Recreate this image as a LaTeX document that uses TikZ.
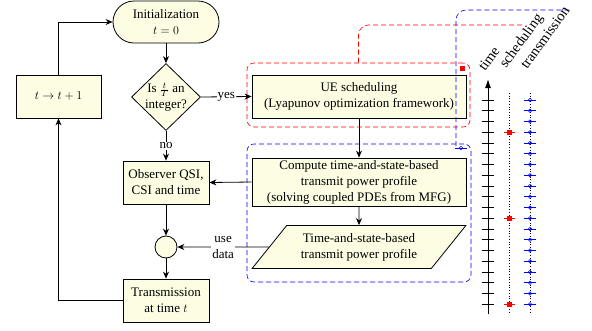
\documentclass[tikz,border=0pt]{standalone}
\usepackage{fontspec}
\setmainfont{Liberation Serif}
\usetikzlibrary{arrows.meta,shapes.geometric}
\definecolor{boxfill}{RGB}{253,253,228}
\begin{document}
\begin{tikzpicture}[x=1pt,y=-1pt,font=\fontsize{13}{16}\selectfont,
  box/.style={draw,line width=0.8pt,fill=boxfill,align=center,inner sep=0pt},
  arr/.style={-{Stealth[length=7pt,width=6pt]},line width=0.8pt},
  lab/.style={fill=white,inner sep=1pt,align=center},
  redgroup/.style={draw=red,line width=0.6pt,dash pattern=on 5pt off 3pt,rounded corners=7pt},
  bluegroup/.style={draw=blue,line width=0.6pt,dash pattern=on 5pt off 3pt,rounded corners=7pt},
  redline/.style={red,line width=0.6pt,dash pattern=on 5pt off 3pt,rounded corners=10pt},
  blueline/.style={blue,line width=0.6pt,dash pattern=on 5pt off 3pt,rounded corners=10pt},
  collabel/.style={rotate=54,anchor=base west,inner sep=0pt,font=\fontsize{14.5}{17}\selectfont}]
\useasboundingbox (0,0) rectangle (592,330);

% groups
\node[redgroup,minimum width=223pt,minimum height=64pt] (redgrp) at (358.5,95) {};
\node[bluegroup,minimum width=224pt,minimum height=138pt] (bluegrp) at (359,213) {};

% flowchart nodes
\node[box,rounded corners=21pt,minimum width=106pt,minimum height=42pt] (init) at (166,22) {Initialization\\$t=0$};
\node[box,diamond,inner sep=-4pt,minimum width=69pt,minimum height=67pt] (dec) at (166,97) {Is $\frac{t}{T}$ an\\integer?};
\node[box,minimum width=86pt,minimum height=43pt] (obs) at (166,182.5) {Observer QSI,\\CSI and time};
\node[draw,circle,fill=boxfill,line width=0.8pt,minimum size=22pt,inner sep=0pt] (circ) at (166,247) {};
\node[box,minimum width=86pt,minimum height=43pt] (trans) at (166,300.5) {Transmission\\at time $t$};
\node[box,minimum width=85pt,minimum height=43pt] (inc) at (58.5,96.5) {$t\to t+1$};
\node[box,minimum width=214pt,minimum height=43pt] (ue) at (359,96.5) {UE scheduling\\(Lyapunov optimization framework)};
\node[box,minimum width=214pt,minimum height=48pt] (comp) at (359,182) {Compute time-and-state-based\\transmit power profile\\(solving coupled PDEs from MFG)};
\node[box,trapezium,trapezium left angle=45,trapezium right angle=135,trapezium stretches=true,minimum width=214pt,minimum height=43pt] (para) at (359,247) {Time-and-state-based\\transmit power profile};

% connectors
\draw[arr] (init.south) -- (dec.north);
\draw[arr] (dec.east) -- node[lab]{yes} (ue.west);
\draw[arr] (dec.south) -- node[lab]{no} (obs.north);
\draw[arr] (ue.south) -- (comp.north);
\draw[arr] (comp.west) -- (obs.east);
\draw[arr] (comp.south) -- (para.north);
\draw[arr] (obs.south) -- (circ.north);
\draw[arr] (para.west) -- node[lab]{use\\data} (circ.east);
\draw[arr] (circ.south) -- (trans.north);
\draw[arr] (trans.west) -| (inc.south);
\draw[arr] (inc.north) |- (init.west);

% group markers and leaders
\node[fill=red,minimum size=5pt,inner sep=0pt] (redmark) at (462,68) {};
\coordinate (bluemark) at (461,148);
\draw[blue,line width=0.6pt] (bluemark) ++(-6,0) -- ++(12,0);
\draw[blue,line width=0.6pt] (bluemark) circle (1.8pt);
\coordinate (redend) at (522,25);
\draw[redline] (redgrp.north) |- (redend);
\coordinate (bluestart) at (456,146);
\coordinate (blueend) at (570,10);
\draw[blueline] (bluestart) |- (blueend);

% timeline
\coordinate (tbot) at (488,314);
\coordinate (ttop) at (488,79);
\draw[-{Latex[length=9pt,width=6pt]},line width=1pt] (tbot) -- (ttop);
\foreach \k in {0,...,19} {
  \draw[line width=0.7pt] (482,{100+10.75*\k}) -- (494,{100+10.75*\k});
}
\draw[dotted,line width=0.7pt] (509,93) -- (509,314);
\draw[dotted,line width=0.7pt] (530,93) -- (530,314);
\foreach \k in {3,11,19} {
  \draw[red,line width=0.6pt] (503.5,{100+10.75*\k}) -- (514.5,{100+10.75*\k});
  \fill[red] (506.5,{100+10.75*\k-2.5}) rectangle (511.5,{100+10.75*\k+2.5});
}
\foreach \k in {0,...,19} {
  \draw[blue,line width=0.6pt] (524,{100+10.75*\k}) -- (536,{100+10.75*\k});
  \draw[blue,line width=0.6pt] (530,{100+10.75*\k}) circle (1.8pt);
}
\node[collabel] (tlab) at (485,72) {time};
\node[collabel] (slab) at (506,69) {scheduling};
\node[collabel] (xlab) at (527,70) {transmission};
\end{tikzpicture}
\end{document}
